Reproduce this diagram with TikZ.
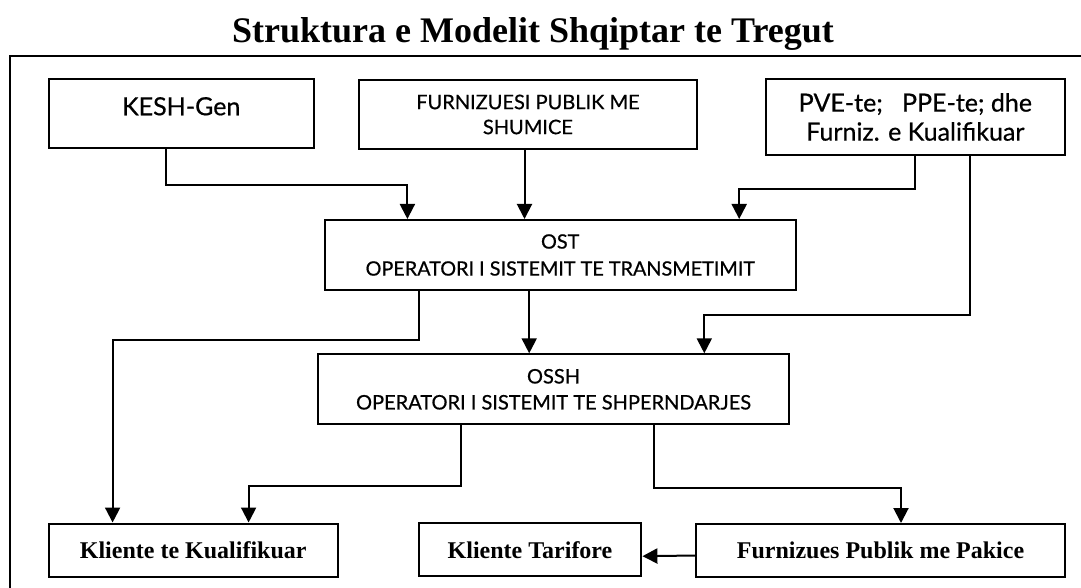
\documentclass[tikz,border=0pt]{standalone}
\usepackage{fontspec}
\setmainfont{Liberation Serif}
\newfontfamily\boxfont{Lato}[FakeBold=0.6]
\usetikzlibrary{arrows.meta}

\tikzset{
  box/.style={draw, line width=1pt, inner sep=0pt, align=center},
  arrow/.style={line width=1pt, -{Triangle[length=7.5pt,width=7.5pt]}},
  serifbox/.style={box, minimum height=26.5pt, font=\bfseries\fontsize{12}{14}\selectfont},
}

\begin{document}
\begin{tikzpicture}[x=0.5pt,y=-0.5pt]
\useasboundingbox (0,0) rectangle (1081,588);
\node[font=\bfseries\fontsize{18}{20}\selectfont, anchor=base] (title) at (533,42.7) {Struktura e Modelit Shqiptar te Tregut};
\draw[line width=1pt] (10.3,588) |- (1081,56);
\node[box, minimum width=132.5pt, minimum height=34.5pt, text depth=7pt, font=\boxfont\fontsize{12.5}{15}\selectfont] (kesh) at (181.2,113.2) {KESH-Gen};
\node[box, minimum width=169pt, minimum height=34.5pt, font=\boxfont\fontsize{10}{12.5}\selectfont] (fps) at (527.9,114.5) {FURNIZUESI PUBLIK ME\\SHUMICE};
\node[box, minimum width=149.5pt, minimum height=38.3pt, font=\boxfont\fontsize{12.5}{14.5}\selectfont] (pve) at (915.3,117) {PVE-te;\ \ \ PPE-te; dhe\\Furniz. e Kualifikuar};
\node[box, minimum width=235.5pt, minimum height=35pt, font=\boxfont\fontsize{9.9}{13.5}\selectfont] (ost) at (560.2,255) {OST\\OPERATORI I SISTEMIT TE TRANSMETIMIT};
\node[box, minimum width=235.6pt, minimum height=35pt, font=\boxfont\fontsize{10}{13}\selectfont] (ossh) at (553.5,389.3) {OSSH\\OPERATORI I SISTEMIT TE SHPERNDARJES};
\node[serifbox, minimum width=144.6pt] (kk) at (193.2,550) {Kliente te Kualifikuar};
\node[serifbox, minimum width=111.4pt] (kt) at (530,549.8) {Kliente Tarifore};
\node[serifbox, minimum width=184.5pt] (fpp) at (880.5,550.5) {Furnizues Publik me Pakice};
\draw[arrow] ([xshift=-7.5pt]kesh.south) -- ++(0,36.6) -| ([xshift=-76.4pt]ost.north);
\draw[arrow] ([xshift=-1.7pt]fps.south) -- ([xshift=-1.7pt]fps.south |- ost.north);
\draw[arrow] (pve.south) -- ++(0,33) -| ([xshift=89.5pt]ost.north);
\draw[arrow] ([xshift=27.4pt]pve.south) -- ++(0,158.7) -| ([xshift=75.4pt]ossh.north);
\draw[arrow] ([xshift=-70.6pt]ost.south) -- ++(0,49.3) -| ([xshift=-40.3pt]kk.north);
\draw[arrow] ([xshift=-15.5pt]ost.south) -- ([xshift=-15.5pt]ost.south |- ossh.north);
\draw[arrow] ([xshift=-46.2pt]ossh.south) -- ++(0,60.7) -| ([xshift=27.7pt]kk.north);
\draw[arrow] ([xshift=50.2pt]ossh.south) -- ++(0,62.4) -| ([xshift=10.25pt]fpp.north);
\draw[arrow] ([yshift=-2.5pt]fpp.west) -- ([yshift=-3.2pt]kt.east);
\end{tikzpicture}
\end{document}
